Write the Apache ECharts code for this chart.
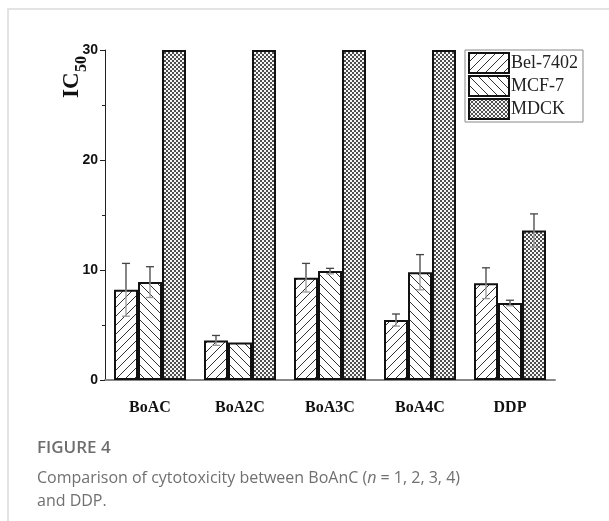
<!DOCTYPE html>
<html><head><meta charset="utf-8">
<script src="https://cdn.jsdelivr.net/npm/echarts@6/dist/echarts.min.js"></script>
<style>html,body{margin:0;padding:0;background:#fff;}#c{width:609px;height:521px;}</style>
</head><body><div id="c"></div>
<script>
const categories = ['BoAC', 'BoA2C', 'BoA3C', 'BoA4C', 'DDP'];
const seriesNames = ['Bel-7402', 'MCF-7', 'MDCK'];
const belValues = [8.2, 3.6, 9.3, 5.45, 8.8];
const belErrors = [2.4, 0.45, 1.3, 0.55, 1.4];
const mcfValues = [8.9, 3.4, 9.9, 9.8, 7.0];
const mcfErrors = [1.4, 0, 0.25, 1.6, 0.25];
const mdckValues = [30, 30, 30, 30, 13.6];
const mdckErrors = [0, 0, 0, 0, 1.5];
const yTicks = [0, 10, 20, 30];

function makeHatch(dir) {
  const s = 9, c = document.createElement('canvas');
  c.width = s; c.height = s;
  const g = c.getContext('2d');
  g.fillStyle = '#fff'; g.fillRect(0, 0, s, s);
  g.strokeStyle = '#333'; g.lineWidth = 1;
  g.beginPath();
  if (dir > 0) {
    g.moveTo(0, s); g.lineTo(s, 0);
    g.moveTo(-1, 1); g.lineTo(1, -1);
    g.moveTo(s - 1, s + 1); g.lineTo(s + 1, s - 1);
  } else {
    g.moveTo(0, 0); g.lineTo(s, s);
    g.moveTo(s - 1, -1); g.lineTo(s + 1, 1);
    g.moveTo(-1, s - 1); g.lineTo(1, s + 1);
  }
  g.stroke();
  return c;
}
function makeChecker() {
  const s = 4, c = document.createElement('canvas');
  c.width = s; c.height = s;
  const g = c.getContext('2d');
  g.fillStyle = '#f6f6f6'; g.fillRect(0, 0, s, s);
  g.fillStyle = '#505050';
  g.fillRect(0, 0, 2, 2); g.fillRect(2, 2, 2, 2);
  return c;
}
const patterns = [
  { image: makeHatch(1), repeat: 'repeat' },
  { image: makeHatch(-1), repeat: 'repeat' },
  { image: makeChecker(), repeat: 'repeat' }
];
const allValues = [belValues, mcfValues, mdckValues];
const allErrors = [belErrors, mcfErrors, mdckErrors];

const errData = [];
for (let s = 0; s < 3; s++) {
  for (let i = 0; i < categories.length; i++) {
    if (allErrors[s][i] > 0) errData.push([i, allValues[s][i], allErrors[s][i], s]);
  }
}

const chart = echarts.init(document.getElementById('c'), null, { renderer: 'canvas' });
const series = seriesNames.map((n, s) => ({
  name: n, type: 'bar', data: allValues[s],
  barGap: '0%', barCategoryGap: '20%',
  itemStyle: { color: patterns[s], borderColor: '#111', borderWidth: 2 },
  z: 2
}));
series.push({
  type: 'custom', name: 'err', z: 5,
  data: errData,
  encode: { x: 0, y: 1 },
  renderItem: function (params, api) {
    const ci = api.value(0), v = api.value(1), e = api.value(2), s = api.value(3);
    const band = api.size([1, 0])[0];
    const bw = band * 0.8 / 3;
    const cx = api.coord([ci, 0])[0] + (s - 1) * bw;
    const yT = api.coord([ci, v + e])[1];
    const yM = api.coord([ci, v])[1];
    const yB = api.coord([ci, v - e])[1];
    const hw = 4;
    return {
      type: 'group', children: [
        { type: 'line', shape: { x1: cx, y1: yT, x2: cx, y2: yM }, style: { stroke: '#444', lineWidth: 1.3 } },
        { type: 'line', shape: { x1: cx, y1: yM, x2: cx, y2: yB }, style: { stroke: '#999', lineWidth: 1.3 } },
        { type: 'line', shape: { x1: cx - hw, y1: yT, x2: cx + hw, y2: yT }, style: { stroke: '#444', lineWidth: 1.3 } },
        { type: 'line', shape: { x1: cx - hw, y1: yB, x2: cx + hw, y2: yB }, style: { stroke: yB > yM + 2 ? '#999' : '#444', lineWidth: 1.3 } }
      ]
    };
  }
});

chart.setOption({
  animation: false,
  backgroundColor: '#fff',
  grid: { left: 105, top: 50, width: 450, height: 330, containLabel: false },
  legend: {
    data: seriesNames, orient: 'vertical', left: 465, top: 50,
    icon: 'rect', itemWidth: 40, itemHeight: 20, itemGap: 1,
    borderColor: '#888', borderWidth: 1, padding: [2, 5, 2, 3],
    textStyle: { fontFamily: 'Liberation Serif', fontSize: 18, color: '#222', padding: [0, 0, 0, -3] },
    itemStyle: { borderColor: '#111', borderWidth: 2 }
  },
  xAxis: {
    type: 'category', data: categories,
    axisLine: { lineStyle: { color: '#888', width: 2 } },
    axisTick: { show: false },
    axisLabel: { fontFamily: 'Liberation Serif', fontWeight: 'bold', fontSize: 16, color: '#111', margin: 20 }
  },
  yAxis: {
    type: 'value', min: 0, max: 30, interval: 10,
    axisLine: { show: true, lineStyle: { color: '#222', width: 1 } },
    axisTick: { show: true, length: 5, lineStyle: { color: '#222' } },
    minorTick: { show: true, splitNumber: 2, length: 3, lineStyle: { color: '#222' } },
    splitLine: { show: false },
    axisLabel: {
      fontFamily: 'Liberation Sans', fontWeight: 'bold', fontSize: 14, color: '#111', margin: 7,
      formatter: v => yTicks.includes(v) ? String(v) : ''
    }
  },
  series: series,
  graphic: [
    { type: 'rect', shape: { x: 8, y: 9, width: 700, height: 600 }, style: { fill: 'none', stroke: '#dadada', lineWidth: 1.5 }, silent: true, z: -10 },
    {
      type: 'group', x: 84, y: 70, rotation: Math.PI / 2, children: [
        { type: 'text', x: -28, y: 0, style: { text: 'IC', fontFamily: 'Liberation Serif', fontWeight: 'bold', fontSize: 23, fill: '#111', textVerticalAlign: 'bottom' } },
        { type: 'text', x: -2, y: 6, style: { text: '50', fontFamily: 'Liberation Serif', fontWeight: 'bold', fontSize: 16, fill: '#111', textVerticalAlign: 'bottom' } }
      ]
    },
    { type: 'text', left: 37, top: 440, style: { text: 'FIGURE 4', fontFamily: 'Open Sans', fontWeight: 600, fontSize: 17, fill: '#6e6e6e' } },
    {
      type: 'text', left: 37, top: 467, style: {
        text: 'Comparison of cytotoxicity between BoAnC ({i|n} = 1, 2, 3, 4)\nand DDP.',
        fontFamily: 'Open Sans', fontSize: 16, fill: '#707070', lineHeight: 23,
        rich: { i: { fontFamily: 'Open Sans', fontSize: 16, fontStyle: 'italic', fill: '#707070', lineHeight: 23 } }
      }
    }
  ]
});
</script></body></html>
